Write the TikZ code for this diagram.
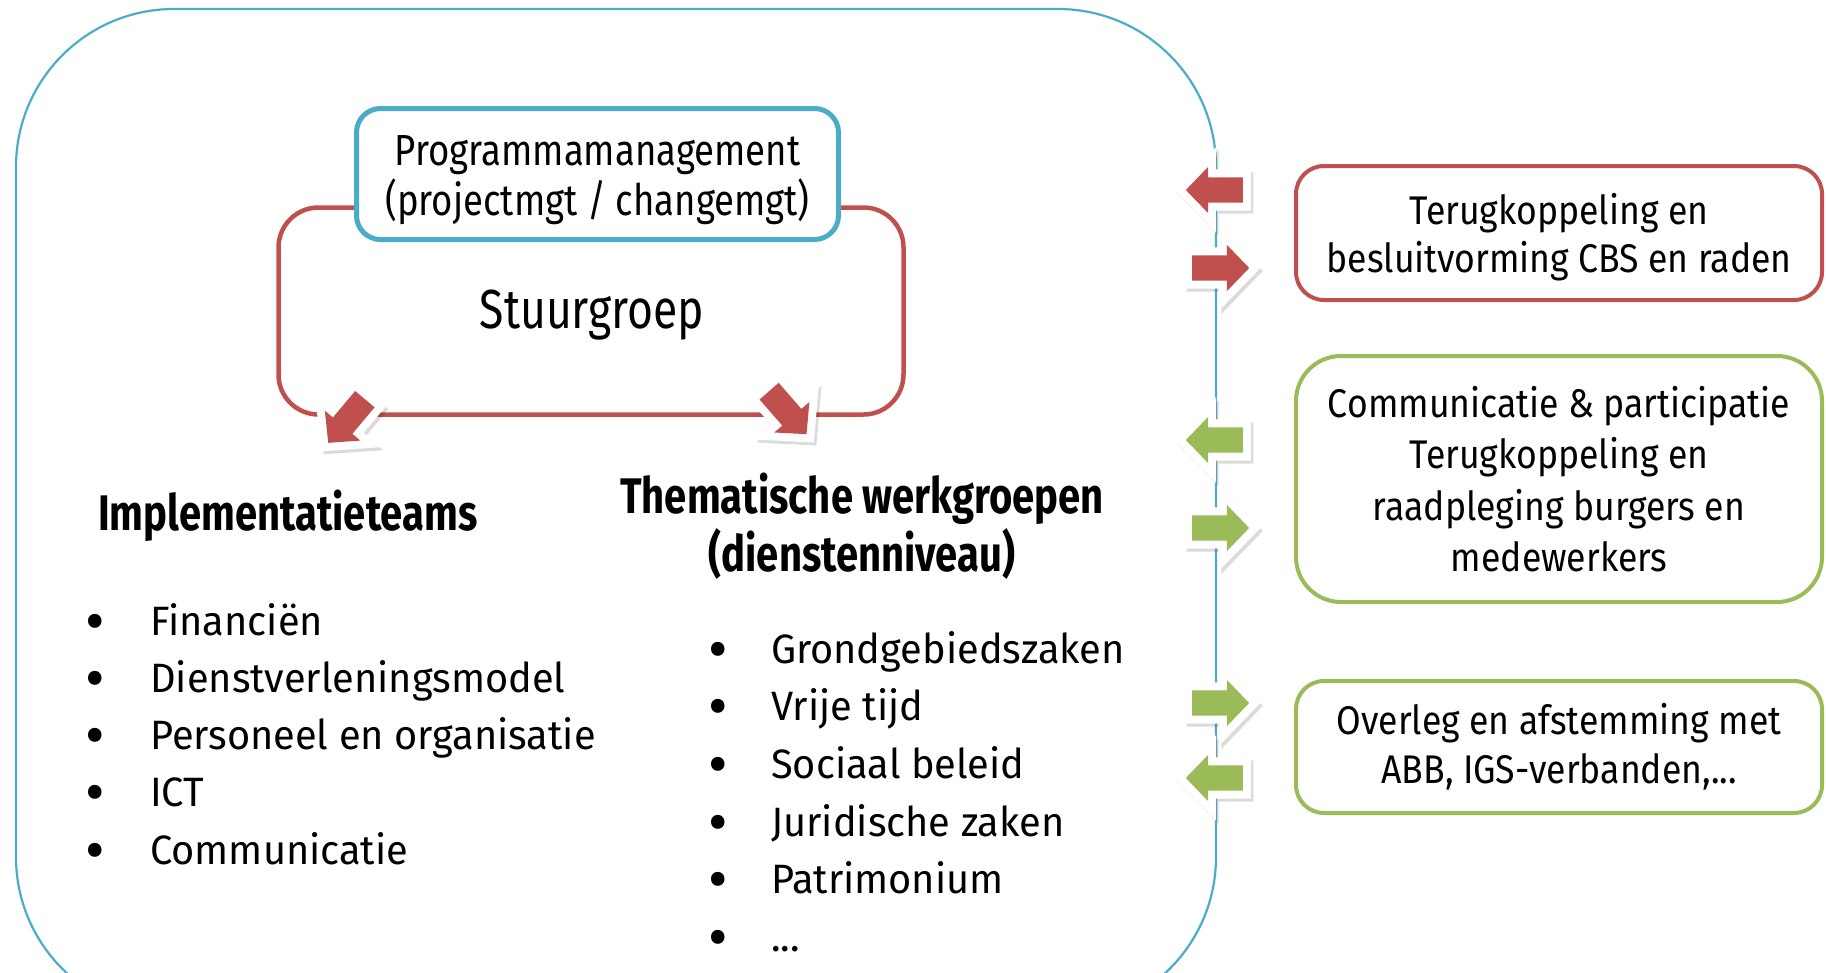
\documentclass[tikz,border=0pt]{standalone}
\usepackage{fontspec}
\setmainfont{Fira Sans}
\newfontfamily\itemfont{Fira Sans}[FakeStretch=0.97]
\newfontfamily\sidefont{Fira Sans}[FakeStretch=0.89]
\newfontfamily\progfont{Fira Sans}[FakeStretch=0.84]
\newfontfamily\stuurfont{Fira Sans}[FakeStretch=0.81]
\newfontfamily\headfont{Fira Sans}[FakeStretch=0.80]
\usetikzlibrary{shapes.arrows,shadows}
\definecolor{accblue}{HTML}{4BACC6}
\definecolor{accred}{HTML}{C0504D}
\definecolor{accgreen}{HTML}{9BBB59}

\begin{document}
\begin{tikzpicture}[x=1pt,y=-1pt,
  blockarrow/.style={single arrow, minimum height=57pt, minimum width=46pt,
    single arrow head extend=10.5pt, single arrow tip angle=92,
    inner xsep=0pt, inner ysep=12.5pt,
    fill=#1,
    general shadow={shadow xshift=2.5pt, shadow yshift=-3pt, fill=black, draw=black,
      line width=16pt, line join=miter, opacity=0.14},
    preaction={draw=white, line width=16pt, line join=miter}},
  sidebox/.style={draw=#1, line width=4pt, fill=white, minimum width=526pt,
    align=center, font=\sidefont\fontsize{40}{48}\selectfont},
  heading/.style={font=\headfont\bfseries\fontsize{50}{58}\selectfont},
  item/.style={anchor=base west, inner sep=0pt, font=\itemfont\fontsize{41}{50}\selectfont},
  dot/.style={inner sep=0pt, font=\itemfont\fontsize{62}{62}\selectfont}
]
\useasboundingbox (0,0) rectangle (1826,972);
\clip (0,0) rectangle (1826,972);

% outer frame
\draw[accblue, line width=2.2pt, rounded corners=158pt] (16,9) rectangle (1216,1015);

% steering group and programme management
\node[draw=accred, line width=4.5pt, rounded corners=40pt, minimum width=625pt,
  minimum height=207pt, inner sep=0pt] (stuur) at (591,311) {};
\node[anchor=base, font=\stuurfont\fontsize{55}{60}\selectfont] (stuurtxt) at (592,328) {Stuurgroep};
\node[draw=accblue, line width=5pt, fill=white, rounded corners=24pt,
  minimum width=482pt, minimum height=131pt, inner sep=0pt] (prog) at (597.5,174) {};
\node[align=center, font=\progfont\fontsize{43.5}{50}\selectfont] (progtxt) at (597.5,180)
  {Programmamanagement\\(projectmgt / changemgt)};

% arrows out of the steering group
\node[blockarrow=accred, rotate=230, anchor=tail] (adl) at (365,399) {};
\node[blockarrow=accred, rotate=311, anchor=tail] (adr) at (769,391) {};

% column headings
\node[heading, anchor=base west, inner sep=0pt] (impl) at (98,530) {Implementatieteams};
\node[heading, align=center] (them) at (862,526) {Thematische werkgroepen\\(dienstenniveau)};

% implementation teams
\node[item] (l1) at (150,635) {Financiën};
\node[item] (l2) at (150,692) {Dienstverleningsmodel};
\node[item] (l3) at (150,749) {Personeel en organisatie};
\node[item] (l4) at (150,806) {ICT};
\node[item] (l5) at (150,864) {Communicatie};
\foreach \y [count=\i] in {635,692,749,806,864}
  \node[dot, anchor=base] (lb\i) at (95,\y+7) {•};

% thematic working groups
\node[item] (r1) at (771,663) {Grondgebiedszaken};
\node[item] (r2) at (771,720) {Vrije tijd};
\node[item] (r3) at (771,778) {Sociaal beleid};
\node[item] (r4) at (771,836) {Juridische zaken};
\node[item] (r5) at (771,893) {Patrimonium};
\node[item] (r6) at (771,951) {...};
\foreach \y [count=\i] in {663,720,778,836,893,951}
  \node[dot, anchor=base] (rb\i) at (718,\y+7) {•};

% partner boxes
\node[sidebox=accred, rounded corners=28pt, minimum height=134pt] (cbs) at (1559,233) {};
\node[align=center, font=\sidefont\fontsize{40}{48}\selectfont] (cbstxt) at (1559,237)
  {Terugkoppeling en\\besluitvorming CBS en raden};
\node[sidebox=accgreen, rounded corners=45pt, minimum height=246pt,
  font=\sidefont\fontsize{40}{51.5}\selectfont] (comm) at (1559,479)
  {Communicatie \& participatie\\Terugkoppeling en\\raadpleging burgers en\\medewerkers};
\node[sidebox=accgreen, rounded corners=28pt, minimum height=132pt,
  font=\sidefont\fontsize{40}{49}\selectfont] (abb) at (1559,747)
  {Overleg en afstemming met\\ABB, IGS-verbanden,...};

% exchange arrows on the frame edge
\node[blockarrow=accred, rotate=180, anchor=tail] (cbsin) at (1243,190) {};
\node[blockarrow=accred, anchor=tail] (cbsout) at (1192,268) {};
\node[blockarrow=accgreen, rotate=180, anchor=tail] (commin) at (1243,440) {};
\node[blockarrow=accgreen, anchor=tail] (commout) at (1192,528) {};
\node[blockarrow=accgreen, anchor=tail] (abbout) at (1192,703) {};
\node[blockarrow=accgreen, rotate=180, anchor=tail] (abbin) at (1243,778) {};
\end{tikzpicture}
\end{document}
